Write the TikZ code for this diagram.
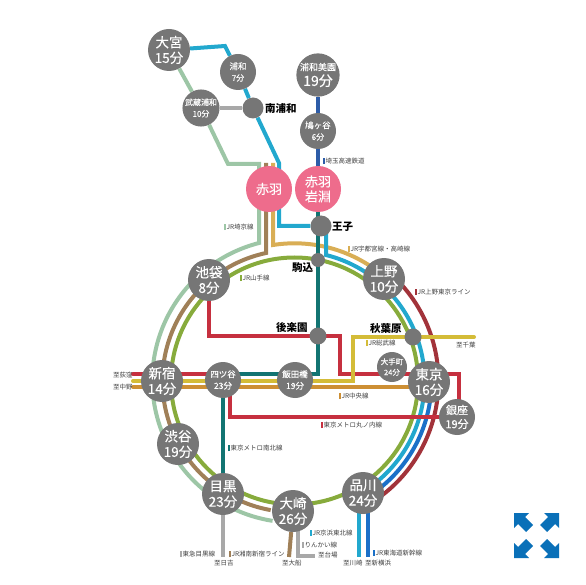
\documentclass[tikz,border=0pt]{standalone}
\usepackage{fontspec}
\setmainfont{Noto Sans CJK JP}
\newfontfamily\stnfont[FakeBold=0.25]{Noto Sans CJK JP}
\usetikzlibrary{backgrounds}
\definecolor{stngray}{HTML}{767676}
\definecolor{stnpink}{HTML}{EE6C8C}
\definecolor{linecyan}{HTML}{22A8CE}
\definecolor{lineteal}{HTML}{127472}
\definecolor{linered}{HTML}{C6303F}
\definecolor{linewine}{HTML}{A2333A}
\definecolor{lineyellow}{HTML}{D4BC38}
\definecolor{linegold}{HTML}{D9AE55}
\definecolor{lineorange}{HTML}{CD8F34}
\definecolor{linebrown}{HTML}{A08058}
\definecolor{linepale}{HTML}{9DC6A6}
\definecolor{linegreen}{HTML}{87AB3C}
\definecolor{linenavy}{HTML}{2D5CA8}
\definecolor{lineblue}{HTML}{1B70C8}
\definecolor{linegray}{HTML}{A8A8A8}
\definecolor{iconblue}{HTML}{0A70B8}
\tikzstyle{bigstn} = [
    circle,
    fill=stngray,
    text=white,
    minimum size=42pt,
    inner sep=0pt,
    align=center,
    font=\stnfont\fontsize{13.5}{15.5}\selectfont
]
\tikzstyle{smallstn} = [
    circle,
    fill=stngray,
    text=white,
    minimum size=36pt,
    inner sep=0pt,
    align=center,
    font=\stnfont\fontsize{8.5}{11.5}\selectfont
]
\tikzstyle{pinkstn} = [
    circle,
    fill=stnpink,
    text=white,
    minimum size=46pt,
    inner sep=0pt,
    align=center,
    font=\stnfont\fontsize{13}{15}\selectfont
]
\tikzstyle{dotstn} = [circle, fill=stngray, inner sep=0pt]
\tikzstyle{stnname} = [inner sep=0pt, anchor=west, font=\fontsize{10.5}{12}\selectfont\bfseries]
\tikzstyle{linename} = [inner sep=0pt, anchor=west, text=black!75, font=\fontsize{6.5}{8}\selectfont]
\tikzstyle{rail} = [line width=4pt]
\newcommand{\linebar}[1]{\textcolor{#1}{\rule[-0.8pt]{1.4pt}{6.4pt}}\hspace{1pt}}
\begin{document}
\begin{tikzpicture}[x=1pt, y=-1pt]
\useasboundingbox (0,0) rectangle (586,585);

\coordinate (ring) at (294.5,381);

% Stations
\node (omiya) [bigstn] at (169,50) {大宮\\15分};
\node (urawa) [smallstn] at (238,72) {浦和\\{\fontsize{8}{10}\selectfont 7分}};
\node (musashiurawa) [smallstn, font=\stnfont\fontsize{8}{11.5}\selectfont] at (201,108) {武蔵浦和\\10分};
\node (minamiurawa) [dotstn, minimum size=21pt] at (253,108) {};
\node (misono) [bigstn, font=\stnfont\fontsize{9}{15.5}\selectfont] at (318,75) {浦和美園\\{\fontsize{14}{15}\selectfont 19分}};
\node (hatogaya) [smallstn] at (318,131) {鳩ヶ谷\\{\fontsize{8}{10}\selectfont 6分}};
\node (akabane) [pinkstn] at (269,189) {赤羽};
\node (iwabuchi) [pinkstn] at (318,189) {赤羽\\岩淵};
\node (oji) [dotstn, minimum size=21pt] at (321,226) {};
\node (komagome) [dotstn, minimum size=14pt] at (318,260) {};
\node (ikebukuro) [bigstn] at (209,280) {池袋\\8分};
\node (ueno) [bigstn] at (384,279) {上野\\10分};
\node (korakuen) [dotstn, minimum size=17pt] at (318,336) {};
\node (akihabara) [dotstn, minimum size=17pt] at (413,337) {};
\node (otemachi) [smallstn, minimum size=30pt, font=\stnfont\fontsize{7.5}{10.5}\selectfont] at (392,367) {大手町\\24分};
\node (shinjuku) [bigstn] at (162,381) {新宿\\14分};
\node (yotsuya) [smallstn] at (223,380) {四ツ谷\\23分};
\node (iidabashi) [smallstn] at (295,380) {飯田橋\\19分};
\node (tokyo) [bigstn] at (429,382) {東京\\16分};
\node (ginza) [smallstn, font=\stnfont\fontsize{11}{14}\selectfont] at (457,417) {銀座\\19分};
\node (shibuya) [bigstn] at (178,444) {渋谷\\19分};
\node (meguro) [bigstn] at (223,494) {目黒\\23分};
\node (osaki) [bigstn] at (293,511) {大崎\\26分};
\node (shinagawa) [bigstn] at (363,493) {品川\\24分};

% Free ends and corners
\coordinate (ogikubo) at (133,374);
\coordinate (chuno) at (133,381);
\coordinate (chuo) at (133,387);
\coordinate (chiba) at (474,337);
\coordinate (hiyoshi) at (223,557);
\coordinate (ofuna) at (289,557);
\coordinate (daiba) at (315,556);
\coordinate (kawasaki) at (359,557);
\coordinate (shinyoko) at (368,557);
\coordinate (ojiright) at (326,226);
\coordinate (ojidown) at (318,226);
\coordinate (tealend) at (224,374);
\coordinate (redout) at (230,385);
\coordinate (ginzaleft) at (457,417);
\coordinate (ginzaup) at (459,417);
\coordinate (rinkaiup) at (298,510);
\coordinate (kawasakiup) at (359,493);
\coordinate (shinyokoup) at (368,493);

% Lines
\begin{scope}[on background layer]
\draw [rail, linegreen] (ring) circle [radius=123.5];
\draw [rail, linepale] (omiya) -- (musashiurawa);
\draw [rail, linepale] (musashiurawa) -- (228,164) -- (259,164) -- (259,243)
    arc [start angle=255.6, end angle=98.8, radius=142];
\draw [rail, linebrown] (266,163) -- (266,253)
    arc [start angle=257.9, end angle=100, radius=131];
\draw [rail, linebrown] (osaki) -- (ofuna);
\draw [rail, linegold] (273,163) -- (273,245)
    arc [start angle=261, end angle=311, radius=137.5];
\draw [rail, linecyan] (omiya) -- (225,46) -- (urawa);
\draw [rail, linecyan] (urawa) -- (minamiurawa);
\draw [rail, linecyan] (minamiurawa) -- (279,163) -- (279,226) -- (oji);
\draw [rail, linecyan] (ojiright) -- (326,255)
    arc [start angle=-76, end angle=58, radius=130];
\draw [rail, linewine] ([shift={(-42:144)}]ring)
    arc [start angle=-42, end angle=55, radius=144];
\draw [rail, lineblue] ([shift={(-3:137)}]ring)
    arc [start angle=-3, end angle=52, radius=137];
\draw [rail, lineteal] (iwabuchi) -- (ojidown) -- (318,374) -- (tealend);
\draw [rail, lineteal] (yotsuya) -- (meguro);
\draw [rail, linenavy] (misono) -- (hatogaya);
\draw [rail, linenavy] (hatogaya) -- (iwabuchi);
\draw [rail, linered] (ikebukuro.center) -- (209,336) -- (340,336) -- (340,374) -- (459,374) -- (ginzaup);
\draw [rail, linered, line cap=round] (ogikubo) -- (tealend);
\draw [rail, linered] (redout) -- (230,417) -- (ginzaleft);
\draw [rail, lineyellow, line cap=round] (chiba) -- (353,337) -- (353,381) -- (chuno);
\draw [rail, lineorange, line cap=round] (chuo) -- (tokyo.center |- chuo);
\draw [rail, linegray] (musashiurawa) -- (minamiurawa);
\draw [rail, linegray] (meguro) -- (hiyoshi);
\draw [rail, linegray] (rinkaiup) -- (298,556) -- (daiba);
\draw [rail, linecyan] (kawasakiup) -- (kawasaki);
\draw [rail, lineblue] (shinyokoup) -- (shinyoko);
\end{scope}

% Names
\node (nminamiurawa) [stnname] at (265,108) {南浦和};
\node (noji) [stnname] at (332,227) {王子};
\node (nkomagome) [stnname] at (292,268) {駒込};
\node (nkorakuen) [stnname] at (276,328) {後楽園};
\node (nakihabara) [stnname] at (370,329) {秋葉原};

\node (lsaikyo) [linename] at (224,227) {\linebar{linepale}JR埼京線};
\node (lsaitama) [linename] at (323,161) {\linebar{linenavy}埼玉高速鉄道};
\node (lutsunomiya) [linename] at (348,249) {\linebar{linegold}JR宇都宮線・高崎線};
\node (lueno) [linename] at (415,292) {\linebar{linewine}JR上野東京ライン};
\node (lyamanote) [linename] at (240,278) {\linebar{linegreen}JR山手線};
\node (togikubo) [linename] at (113,375) {至荻窪};
\node (tnakano) [linename] at (113,387) {至中野};
\node (lsobu) [linename] at (366,343) {\linebar{lineyellow}JR総武線};
\node (tchiba) [linename] at (456,345) {至千葉};
\node (lchuo) [linename] at (339,396) {\linebar{lineorange}JR中央線};
\node (lmarunouchi) [linename] at (321,425) {\linebar{linered}東京メトロ丸ノ内線};
\node (lnamboku) [linename] at (228,448) {\linebar{lineteal}東京メトロ南北線};
\node (lmeguro) [linename] at (180,554) {\linebar{linegray}東急目黒線};
\node (lshonan) [linename] at (229,554) {\linebar{linebrown}JR湘南新宿ライン};
\node (thiyoshi) [linename] at (214,563) {至日吉};
\node (tofuna) [linename] at (282,563) {至大船};
\node (lkeihin) [linename] at (310,533) {\linebar{linecyan}JR京浜東北線};
\node (lrinkai) [linename] at (302,545) {\linebar{linegray}りんかい線};
\node (tdaiba) [linename] at (318,555) {至台場};
\node (tkawasaki) [linename] at (343,563) {至川崎};
\node (tshinyoko) [linename] at (365,563) {至新横浜};
\node (ltokaido) [linename] at (373,553) {\linebar{lineblue}JR東海道新幹線};

% Icon
\foreach \sx/\sy/\cx/\cy in {1/1/514/513, -1/1/559/513, 1/-1/514/558, -1/-1/559/558}
    \fill [iconblue, shift={(\cx,\cy)}, xscale=\sx, yscale=\sy]
        (0,0) -- (15,0) -- (11,4) -- (19,12) -- (12,19) -- (4,11) -- (0,15) -- cycle;

\end{tikzpicture}
\end{document}
